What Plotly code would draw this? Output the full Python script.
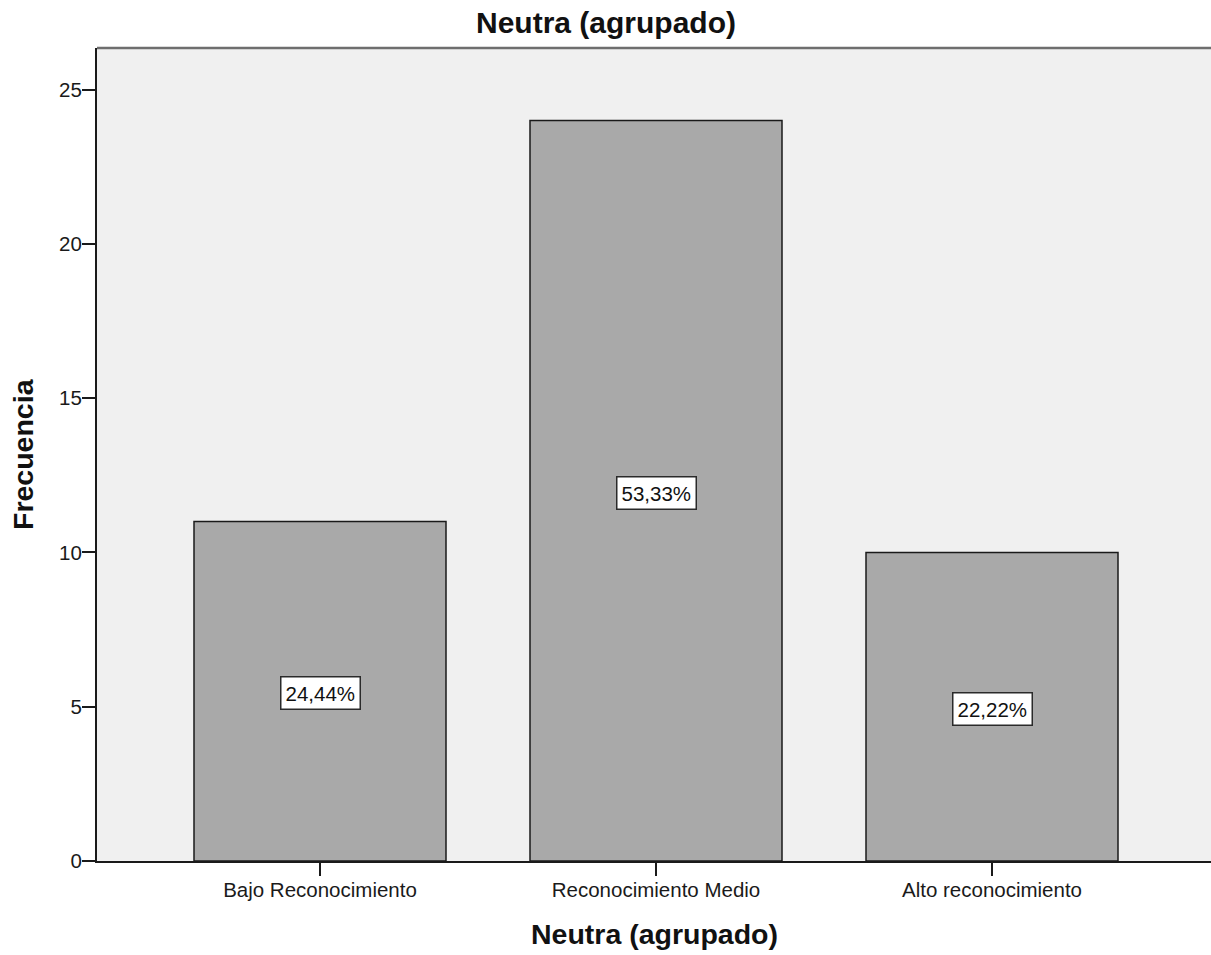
import plotly.graph_objects as go

# Frequency counts for the grouped "Neutra" variable
categories = ["Bajo Reconocimiento", "Reconocimiento Medio", "Alto reconocimiento"]
counts = [11, 24, 10]
y_ticks = [0, 5, 10, 15, 20, 25]

total = sum(counts)
pct_labels = [f"{c / total * 100:.2f}%".replace(".", ",") for c in counts]

FONT = "Liberation Sans, Arial, sans-serif"
W, H = 1211, 955
M_L, M_R, M_T, M_B = 97, 0, 48, 94

fig = go.Figure()
fig.add_trace(go.Bar(
    x=list(range(len(categories))),
    y=counts,
    width=0.75,
    marker=dict(color="#a9a9a9", line=dict(color="#1a1a1a", width=1.5)),
    hoverinfo="skip",
))

# Percentage boxes at the middle of each bar
for i, (c, lab) in enumerate(zip(counts, pct_labels)):
    fig.add_annotation(
        x=i, y=c / 2, xref="x", yref="y", yshift=-2, text=lab, showarrow=False,
        font=dict(family=FONT, size=20.5, color="#111"),
        bgcolor="white", bordercolor="#2a2a2a", borderwidth=1.5, borderpad=4,
    )

plot_h = H - M_T - M_B
# Chart title, x-axis title, y-axis title
fig.add_annotation(text="<b>Neutra (agrupado)</b>", xref="paper", yref="paper",
                   x=(W / 2 - M_L) / (W - M_L - M_R), y=1 + (M_T - 23) / plot_h,
                   xanchor="center", yanchor="middle", showarrow=False,
                   font=dict(family=FONT, size=30, color="#111"))
fig.add_annotation(text="<b>Neutra (agrupado)</b>", xref="paper", yref="paper",
                   x=0.5, y=-(934 - (H - M_B)) / plot_h,
                   xanchor="center", yanchor="middle", showarrow=False,
                   font=dict(family=FONT, size=28.5, color="#111"))
fig.add_annotation(text="<b>Frecuencia</b>", xref="paper", yref="paper",
                   x=-(M_L - 22.5) / (W - M_L - M_R), y=0.5, textangle=-90,
                   xanchor="center", yanchor="middle", showarrow=False,
                   font=dict(family=FONT, size=28.5, color="#111"))

# Gray frame line along the top of the plot area
fig.add_shape(type="line", xref="paper", yref="paper", x0=0, x1=1, y0=1, y1=1,
              line=dict(color="#6e6e6e", width=2.5))

fig.update_layout(
    width=W, height=H,
    margin=dict(l=M_L, r=M_R, t=M_T, b=M_B, pad=0),
    paper_bgcolor="white", plot_bgcolor="#f0f0f0",
    showlegend=False,
    xaxis=dict(
        range=[-0.6637, 2.6518], tickmode="array",
        tickvals=list(range(len(categories))), ticktext=categories,
        ticks="outside", ticklen=13, tickwidth=1.5, tickcolor="#1a1a1a",
        ticklabelstandoff=-4,
        showline=True, linecolor="#1a1a1a", linewidth=2,
        showgrid=False, zeroline=False, automargin=False,
        tickfont=dict(family=FONT, size=20.5, color="#1a1a1a"),
    ),
    yaxis=dict(
        range=[0, 26.35], tickmode="array", tickvals=y_ticks,
        ticks="outside", ticklen=13, tickwidth=1.5, tickcolor="#1a1a1a",
        ticklabelstandoff=-4,
        showline=True, linecolor="#1a1a1a", linewidth=2,
        showgrid=False, zeroline=False, automargin=False,
        tickfont=dict(family=FONT, size=20.5, color="#1a1a1a"),
    ),
)

fig.write_html("out.html")
